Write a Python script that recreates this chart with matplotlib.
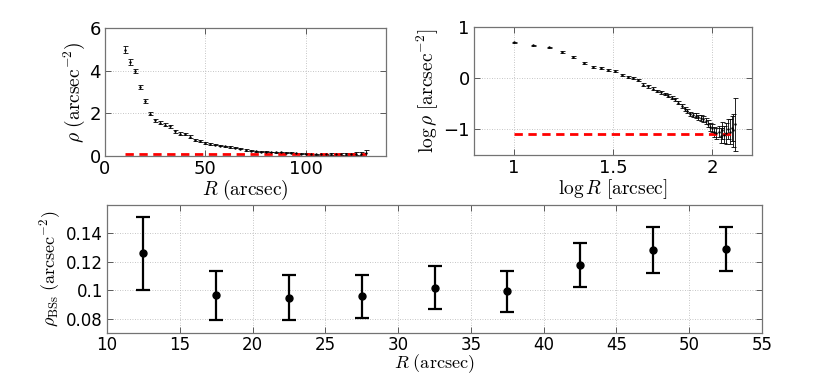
import matplotlib
matplotlib.use("Agg")
import matplotlib.pyplot as plt
import numpy as np

plt.rcParams['mathtext.fontset'] = 'cm'
plt.rcParams['font.family'] = 'DejaVu Sans'

# radial density profile (all stars)
r_prof = [10, 12.5, 15, 17.5, 20, 22.5, 25, 27.5, 30, 32.5, 35, 37.5, 40, 42.5,
          45, 47.5, 50, 52.5, 55, 57.5, 60, 62.5, 65, 67.5, 70, 72.5, 75, 77.5,
          80, 82.5, 85, 87.5, 90, 92.5, 95, 97.5, 100, 102.5, 105, 107.5, 110,
          112.5, 115, 117.5, 120, 122.5, 125, 127.5, 130]
log_rho = [0.698, 0.645, 0.600, 0.512, 0.410, 0.298, 0.224, 0.195, 0.165, 0.146,
           0.065, 0.020, 0.008, -0.040, -0.125, -0.160, -0.205, -0.250, -0.275,
           -0.310, -0.345, -0.380, -0.410, -0.480, -0.550, -0.600, -0.640, -0.700,
           -0.715, -0.730, -0.760, -0.780, -0.800, -0.840, -0.890, -0.950, -0.970,
           -1.050, -1.080, -1.050, -1.120, -1.020, -1.100, -1.080, -1.000, -1.050,
           -0.980, -1.020, -0.900]
rho_err = [0.16, 0.13, 0.10, 0.09, 0.09, 0.08, 0.08, 0.07, 0.07, 0.07,
           0.06, 0.06, 0.05, 0.05, 0.045, 0.04, 0.04, 0.035, 0.035, 0.03,
           0.03, 0.03, 0.028, 0.025, 0.025, 0.022, 0.022, 0.02, 0.02, 0.02,
           0.02, 0.02, 0.02, 0.02, 0.02, 0.02, 0.02, 0.02, 0.022, 0.022,
           0.025, 0.035, 0.03, 0.04, 0.045, 0.05, 0.06, 0.07, 0.15]
rho_bg = 0.081

# blue straggler density
r_bss = [12.5, 17.5, 22.5, 27.5, 32.5, 37.5, 42.5, 47.5, 52.5]
rho_bss = [0.1259, 0.0965, 0.0948, 0.0958, 0.1016, 0.0995, 0.1181, 0.1285, 0.1289]
bss_lo = [0.1002, 0.0791, 0.0791, 0.0805, 0.0866, 0.0849, 0.1026, 0.1122, 0.1134]
bss_hi = [0.1513, 0.1136, 0.1108, 0.1111, 0.1169, 0.1139, 0.1334, 0.1442, 0.1442]

r_prof = np.array(r_prof)
log_rho = np.array(log_rho)
rho = 10 ** log_rho
rho_err = np.array(rho_err)
log_err = rho_err / (rho * np.log(10))

W, H = 830, 375
fig = plt.figure(figsize=(W / 100, H / 100), dpi=100)


def box(l, t, r, b):
    return [l / W, 1 - b / H, (r - l) / W, (b - t) / H]


def style(ax, size):
    for s in ax.spines.values():
        s.set_color('0.45')
        s.set_linewidth(0.9)
    ax.tick_params(direction='in', top=True, right=True, length=4,
                   width=0.7, color='0.35', labelsize=size, pad=3)
    ax.grid(True, linestyle=(0, (1, 2)), color='0.7', linewidth=0.6)
    ax.set_axisbelow(True)


# top left: linear profile
ax1 = fig.add_axes(box(105, 28, 386, 156))
ax1.errorbar(r_prof, rho, yerr=rho_err, fmt='.', color='black', ms=1.5,
             elinewidth=0.6, capsize=1.8, capthick=0.6)
ax1.plot([r_prof[0], r_prof[-1]], [rho_bg, rho_bg], '--', color='red', lw=2, dashes=(3, 2))
ax1.set_xlim(0, 140)
ax1.set_ylim(0, 6)
ax1.set_xticks([0, 50, 100])
ax1.set_yticks([0, 2, 4, 6])
style(ax1, 13)
ax1.set_xlabel(r'$R\ \mathrm{(arcsec)}$', fontsize=14, labelpad=0)
ax1.set_ylabel(r'$\rho\ \mathrm{(arcsec^{-2})}$', fontsize=14, labelpad=2)

# top right: log profile
ax2 = fig.add_axes(box(474, 27, 752, 155))
ax2.errorbar(np.log10(r_prof), log_rho, yerr=log_err, fmt='.', color='black', ms=1.5,
             elinewidth=0.6, capsize=1.8, capthick=0.6)
ax2.plot(np.log10([r_prof[0], r_prof[-1]]), np.log10([rho_bg, rho_bg]), '--',
         color='red', lw=2, dashes=(3, 2))
ax2.set_xlim(0.8, 2.2)
ax2.set_ylim(-1.5, 1)
ax2.set_xticks([1, 1.5, 2])
ax2.set_xticklabels(['1', '1.5', '2'])
ax2.set_yticks([-1, 0, 1])
ax2.set_yticklabels(['\u22121', '0', '1'])
style(ax2, 13)
ax2.set_xlabel(r'$\log R\ [\mathrm{arcsec}]$', fontsize=14, labelpad=0)
ax2.set_ylabel(r'$\log \rho\ [\mathrm{arcsec^{-2}}]$', fontsize=14, labelpad=2)

# bottom: BSS density
ax3 = fig.add_axes(box(107, 205, 762, 333))
yerr = [np.array(rho_bss) - np.array(bss_lo), np.array(bss_hi) - np.array(rho_bss)]
ax3.errorbar(r_bss, rho_bss, yerr=yerr, fmt='o', color='black', ms=5,
             elinewidth=1.6, capsize=5, capthick=1.6)
ax3.set_xlim(10, 55)
ax3.set_ylim(0.07, 0.16)
ax3.set_xticks(np.arange(10, 56, 5))
ax3.set_yticks([0.08, 0.1, 0.12, 0.14])
ax3.set_yticklabels(['0.08', '0.1', '0.12', '0.14'])
style(ax3, 12)
ax3.tick_params(axis='x', pad=2)
ax3.set_xlabel(r'$R\ \mathrm{(arcsec)}$', fontsize=13, labelpad=-1)
ax3.set_ylabel(r'$\rho_{\mathrm{BSs}}\ \mathrm{(arcsec^{-2})}$', fontsize=13, labelpad=2)

fig.savefig('out.png', dpi=100)
